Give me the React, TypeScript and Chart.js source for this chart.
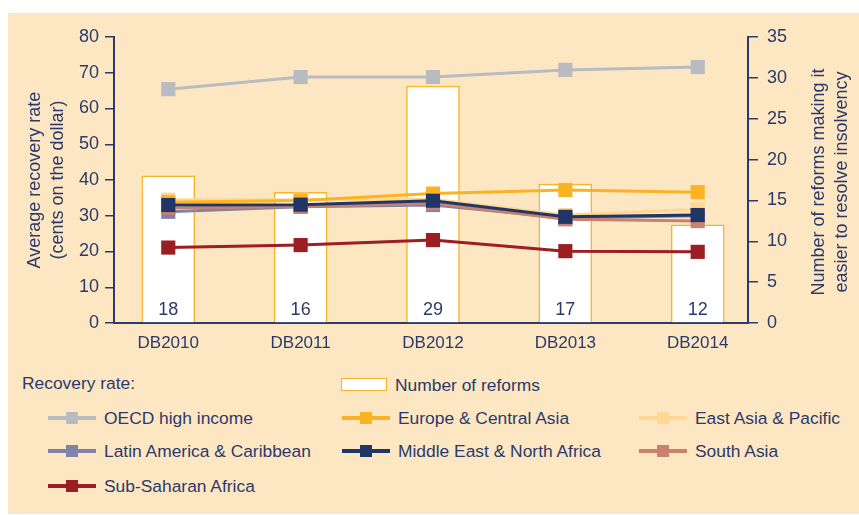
import React, { useEffect, useRef } from 'react';
import { Chart, registerables } from 'chart.js';

Chart.register(...registerables);

const CATEGORIES = ['DB2010', 'DB2011', 'DB2012', 'DB2013', 'DB2014'];
const REFORMS = [18, 16, 29, 17, 12];
const OECD = [65.4, 68.8, 68.8, 70.8, 71.6];
const ECA = [33.8, 34.3, 36.2, 37.2, 36.6];
const EAP = [34.5, 34.5, 34.6, 30.2, 31.8];
const LAC = [31.1, 32.5, 33.0, 29.4, 30.0];
const MENA = [33.0, 33.1, 34.2, 29.7, 30.2];
const SAR = [32.2, 32.6, 33.5, 29.0, 28.5];
const SSA = [21.1, 21.8, 23.2, 20.1, 19.9];

const LEFT_TITLE = ['Average recovery rate', '(cents on the dollar)'];
const RIGHT_TITLE = ['Number of reforms making it', 'easier to resolve insolvency'];

const FONT = "'Liberation Sans', Arial, sans-serif";
const NAVY = '#2b3a6b';
const BG = '#fde7c3';
const BAR_BORDER = '#f9b52a';

const SERIES = [
  { label: 'OECD high income', data: OECD, color: '#b8bbbf', order: 7 },
  { label: 'Europe & Central Asia', data: ECA, color: '#fbb321', order: 2 },
  { label: 'East Asia & Pacific', data: EAP, color: '#fdd794', order: 6 },
  { label: 'Latin America & Caribbean', data: LAC, color: '#8083a8', order: 5 },
  { label: 'Middle East & North Africa', data: MENA, color: '#213667', order: 1 },
  { label: 'South Asia', data: SAR, color: '#c98170', order: 4 },
  { label: 'Sub-Saharan Africa', data: SSA, color: '#9c1d22', order: 3 },
];

const barLabels = {
  id: 'barLabels',
  afterDatasetsDraw(chart: any) {
    const ctx = chart.ctx;
    const meta = chart.getDatasetMeta(0);
    const bottom = chart.chartArea.bottom;
    ctx.save();
    ctx.fillStyle = NAVY;
    ctx.font = `18px ${FONT}`;
    ctx.textAlign = 'center';
    ctx.textBaseline = 'middle';
    meta.data.forEach((el: any, i: number) => {
      ctx.fillText(String(REFORMS[i]), el.x, bottom - 13);
    });
    ctx.restore();
  },
};

const rightTitle = {
  id: 'rightTitle',
  afterDraw(chart: any) {
    const s = chart.scales.y1;
    const ctx = chart.ctx;
    const cy = (chart.chartArea.top + chart.chartArea.bottom) / 2 + 2;
    ctx.save();
    ctx.fillStyle = NAVY;
    ctx.font = `18px ${FONT}`;
    ctx.textAlign = 'center';
    ctx.textBaseline = 'middle';
    RIGHT_TITLE.forEach((line, i) => {
      ctx.save();
      ctx.translate(s.left + 71 + i * 23, cy);
      ctx.rotate(-Math.PI / 2);
      ctx.fillText(line, 0, 0);
      ctx.restore();
    });
    ctx.restore();
  },
};

function LegendItem({ x, y, color, label }: { x: number; y: number; color: string; label: string }) {
  return (
    <>
      <div style={{ position: 'absolute', left: x, top: y - 2, width: 48, height: 4, background: color }} />
      <div style={{ position: 'absolute', left: x + 18, top: y - 6, width: 12, height: 12, background: color }} />
      <div
        style={{
          position: 'absolute',
          left: x + 56,
          top: y - 11,
          height: 22,
          lineHeight: '22px',
          fontSize: 17.4,
          color: NAVY,
          whiteSpace: 'nowrap',
        }}
      >
        {label}
      </div>
    </>
  );
}

export default function App() {
  const ref = useRef<HTMLCanvasElement>(null);

  useEffect(() => {
    if (!ref.current) return;
    const lineSets = SERIES.map((s) => ({
      type: 'line' as const,
      label: s.label,
      data: s.data.map((v, i) => ({ x: i, y: v })),
      borderColor: s.color,
      backgroundColor: s.color,
      borderWidth: 3,
      pointStyle: 'rect' as const,
      pointRadius: 10,
      pointBorderWidth: 0,
      pointBackgroundColor: s.color,
      tension: 0,
      yAxisID: 'y',
      order: s.order,
    }));
    const chart = new Chart(ref.current, {
      type: 'bar',
      data: {
        datasets: [
          {
            type: 'bar',
            label: 'Number of reforms',
            data: REFORMS.map((v, i) => ({ x: i, y: v })),
            backgroundColor: '#ffffff',
            borderColor: BAR_BORDER,
            borderWidth: 1.5,
            barThickness: 53,
            yAxisID: 'y1',
            order: 10,
          } as any,
          ...lineSets,
        ],
      },
      options: {
        animation: false,
        responsive: false,
        maintainAspectRatio: false,
        layout: { padding: { top: 24, left: 0, right: 0, bottom: 0 } },
        plugins: { legend: { display: false }, tooltip: { enabled: false } },
        scales: {
          x: {
            type: 'linear',
            min: -0.41,
            max: 4.38,
            offset: false,
            grid: { display: true, offset: false, drawOnChartArea: false, drawTicks: false },
            border: { color: NAVY, width: 2 },
            ticks: {
              stepSize: 1,
              includeBounds: false,
              autoSkip: false,
              maxRotation: 0,
              padding: 10,
              color: NAVY,
              font: { family: FONT, size: 17 },
              callback: (v: any) => (Number.isInteger(v) ? CATEGORIES[v] ?? '' : ''),
            },
            afterFit: (s: any) => {
              s.height = 45;
            },
          },
          y: {
            position: 'left',
            min: 0,
            max: 80,
            grid: {
              display: true,
              drawOnChartArea: false,
              drawTicks: true,
              tickLength: 9,
              color: NAVY,
              lineWidth: 1.5,
            },
            border: { color: NAVY, width: 2 },
            ticks: { stepSize: 10, padding: 6, color: NAVY, font: { family: FONT, size: 18 } },
            title: {
              display: true,
              text: LEFT_TITLE,
              color: NAVY,
              font: { family: FONT, size: 18, lineHeight: 1.3 },
              padding: { top: 15, bottom: 0 },
            },
            afterFit: (s: any) => {
              s.width = 106;
            },
          },
          y1: {
            position: 'right',
            min: 0,
            max: 35,
            grid: {
              display: true,
              drawOnChartArea: false,
              drawTicks: true,
              tickLength: 10,
              color: NAVY,
              lineWidth: 1.5,
            },
            border: { color: NAVY, width: 2 },
            ticks: { stepSize: 5, padding: 9, color: NAVY, font: { family: FONT, size: 18 } },
            afterFit: (s: any) => {
              s.width = 111;
            },
          },
        },
      } as any,
      plugins: [barLabels, rightTitle],
    });
    return () => chart.destroy();
  }, []);

  const cols = [40, 334, 631];
  const rows = [405, 438, 473];
  const positions = [
    [0, 0], [1, 0], [2, 0],
    [0, 1], [1, 1], [2, 1],
    [0, 2],
  ];

  return (
    <div
      style={{
        position: 'absolute',
        left: 8,
        top: 13,
        width: 851,
        height: 501,
        background: BG,
        fontFamily: FONT,
        overflow: 'hidden',
      }}
    >
      <canvas ref={ref} width={851} height={355} style={{ position: 'absolute', left: 0, top: 0, width: 851, height: 355 }} />
      <div style={{ position: 'absolute', left: 14, top: 359, height: 22, lineHeight: '22px', fontSize: 17.4, color: NAVY }}>
        Recovery rate:
      </div>
      <div
        style={{
          position: 'absolute',
          left: 333,
          top: 365,
          width: 44,
          height: 11,
          background: '#ffffff',
          border: `1.5px solid ${BAR_BORDER}`,
        }}
      />
      <div style={{ position: 'absolute', left: 387, top: 361, height: 22, lineHeight: '22px', fontSize: 17.4, color: NAVY }}>
        Number of reforms
      </div>
      {SERIES.map((s, i) => (
        <LegendItem key={s.label} x={cols[positions[i][0]]} y={rows[positions[i][1]]} color={s.color} label={s.label} />
      ))}
    </div>
  );
}
